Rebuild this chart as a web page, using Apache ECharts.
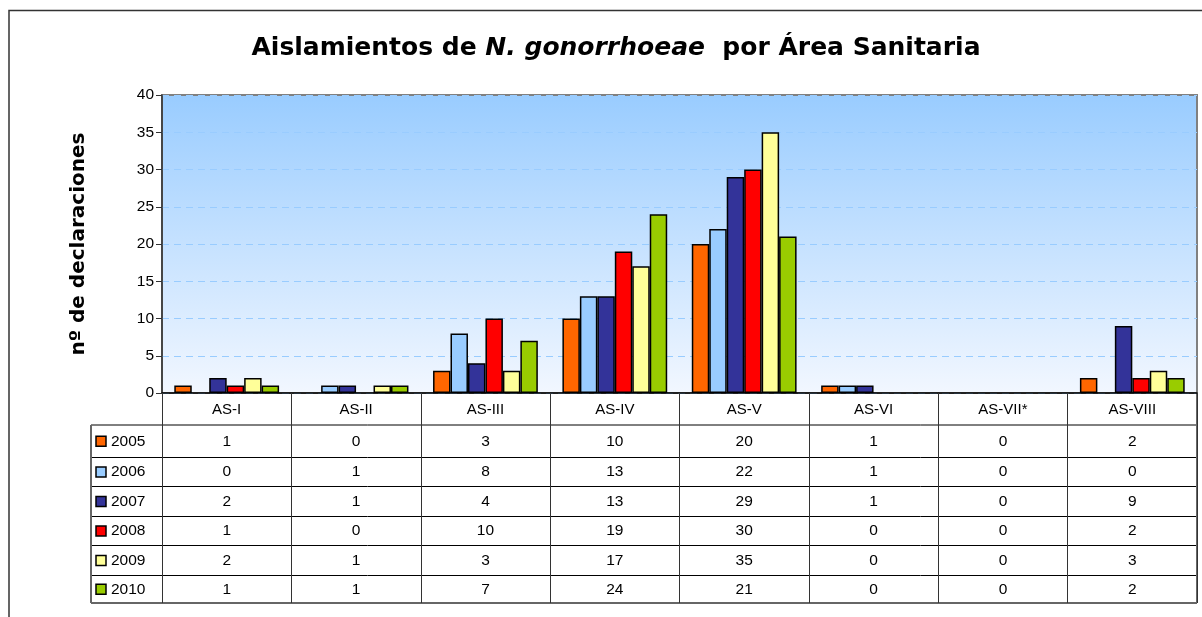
<!DOCTYPE html>
<html><head><meta charset="utf-8">
<script src="https://cdn.jsdelivr.net/npm/echarts@6/dist/echarts.min.js"></script>
<style>html,body{margin:0;padding:0;background:#fff}#c{width:1202px;height:617px}</style>
</head><body><div id="c"></div>
<script>
const categories = ['AS-I','AS-II','AS-III','AS-IV','AS-V','AS-VI','AS-VII*','AS-VIII'];
const years = ['2005','2006','2007','2008','2009','2010'];
const colors = ['#FF6600','#99CCFF','#333399','#FF0000','#FFFF99','#99CC00'];
const v2005 = [1,0,3,10,20,1,0,2];
const v2006 = [0,1,8,13,22,1,0,0];
const v2007 = [2,1,4,13,29,1,0,9];
const v2008 = [1,0,10,19,30,0,0,2];
const v2009 = [2,1,3,17,35,0,0,3];
const v2010 = [1,1,7,24,21,0,0,2];
const values = [v2005,v2006,v2007,v2008,v2009,v2010];
const yTicks = [0,5,10,15,20,25,30,35,40];

const chart = echarts.init(document.getElementById('c'));
const FONT = 'Liberation Sans, Arial, sans-serif';
const G = {left:162, right:5, top:95, bottom:224};

const option = {
  animation:false,
  title:{
    top:31, left:611, textAlign:'center',
    text:'{b|Aislamientos de }{i|N. gonorrhoeae}{b|  por Área Sanitaria}',
    textStyle:{rich:{
      b:{fontFamily:'DejaVu Sans', fontWeight:'bold', fontSize:25, color:'#000'},
      i:{fontFamily:'DejaVu Sans', fontWeight:'bold', fontStyle:'italic', fontSize:25, color:'#000'}
    }}
  },
  grid:{left:G.left, right:G.right, top:G.top, bottom:G.bottom, show:true,
    backgroundColor:{type:'linear',x:0,y:0,x2:0,y2:1,colorStops:[{offset:0,color:'#99CCFF'},{offset:1,color:'#F2F7FF'}]},
    borderColor:'#808080', borderWidth:2},
  xAxis:{type:'category', data:categories,
    axisLine:{lineStyle:{color:'#000',width:1.5}},
    axisTick:{show:true, alignWithLabel:false, length:210, lineStyle:{color:'#333',width:1}},
    axisLabel:{show:true, margin:9, fontFamily:FONT, fontSize:15, color:'#000'}},
  yAxis:{type:'value', min:0, max:40, interval:5,
    name:'nº de declaraciones', nameLocation:'middle', nameGap:73,
    nameTextStyle:{fontFamily:'DejaVu Sans', fontWeight:'bold', fontSize:20, color:'#000'},
    axisLine:{show:true, lineStyle:{color:'#333',width:1.5}},
    axisTick:{show:true, length:6, lineStyle:{color:'#333'}},
    axisLabel:{fontFamily:FONT, fontSize:15.5, color:'#000', margin:8,
      formatter:function(v){return yTicks.indexOf(v)>=0?String(v):'';}},
    splitLine:{show:true, lineStyle:{type:[7,5], color:'#99CCFF', width:1.2}}},
  series: years.map(function(y,i){return {
    name:y, type:'bar', data:values[i].map(function(v){return v===0?null:v;}),
    barGap:'0%', barCategoryGap:'19%',
    itemStyle:{color:colors[i], borderColor:'#000', borderWidth:1.5}
  };})
};
chart.setOption(option);

// Build data table beneath the axis
const rowLines = [425, 457.5, 486.5, 516.5, 545.5, 575.5, 603];
const tableLeft = 91, tableRight = 1197;
const gfx = [];
for (let r=0;r<rowLines.length;r++){
  gfx.push({type:'line', shape:{x1:tableLeft,y1:rowLines[r],x2:tableRight,y2:rowLines[r]},
    style:{stroke: r===rowLines.length-1?'#666':'#000', lineWidth: r===rowLines.length-1?2:1}});
}
gfx.push({type:'line', shape:{x1:tableLeft,y1:rowLines[0],x2:tableLeft,y2:rowLines[rowLines.length-1]}, style:{stroke:'#666',lineWidth:2}});
gfx.push({type:'line', shape:{x1:tableRight,y1:393,x2:tableRight,y2:rowLines[rowLines.length-1]}, style:{stroke:'#666',lineWidth:2}});
for (let i=0;i<years.length;i++){
  const cy = (rowLines[i]+rowLines[i+1])/2;
  gfx.push({type:'rect', shape:{x:96,y:cy-5,width:10,height:10}, style:{fill:colors[i],stroke:'#000',lineWidth:1.5}});
  gfx.push({type:'text', style:{x:111,y:cy,text:years[i],font:'15.5px '+FONT,fill:'#000',verticalAlign:'middle'}});
  for (let c=0;c<categories.length;c++){
    const px = chart.convertToPixel({xAxisIndex:0}, categories[c]);
    gfx.push({type:'text', style:{x:px,y:cy,text:String(values[i][c]),font:'15.5px '+FONT,fill:'#000',align:'center',verticalAlign:'middle'}});
  }
}
// outer frame
gfx.push({type:'polyline', shape:{points:[[9,640],[9,10.5],[1210,10.5]]}, style:{stroke:'#333',lineWidth:1.5,fill:null}});
chart.setOption({graphic:gfx});
</script></body></html>
